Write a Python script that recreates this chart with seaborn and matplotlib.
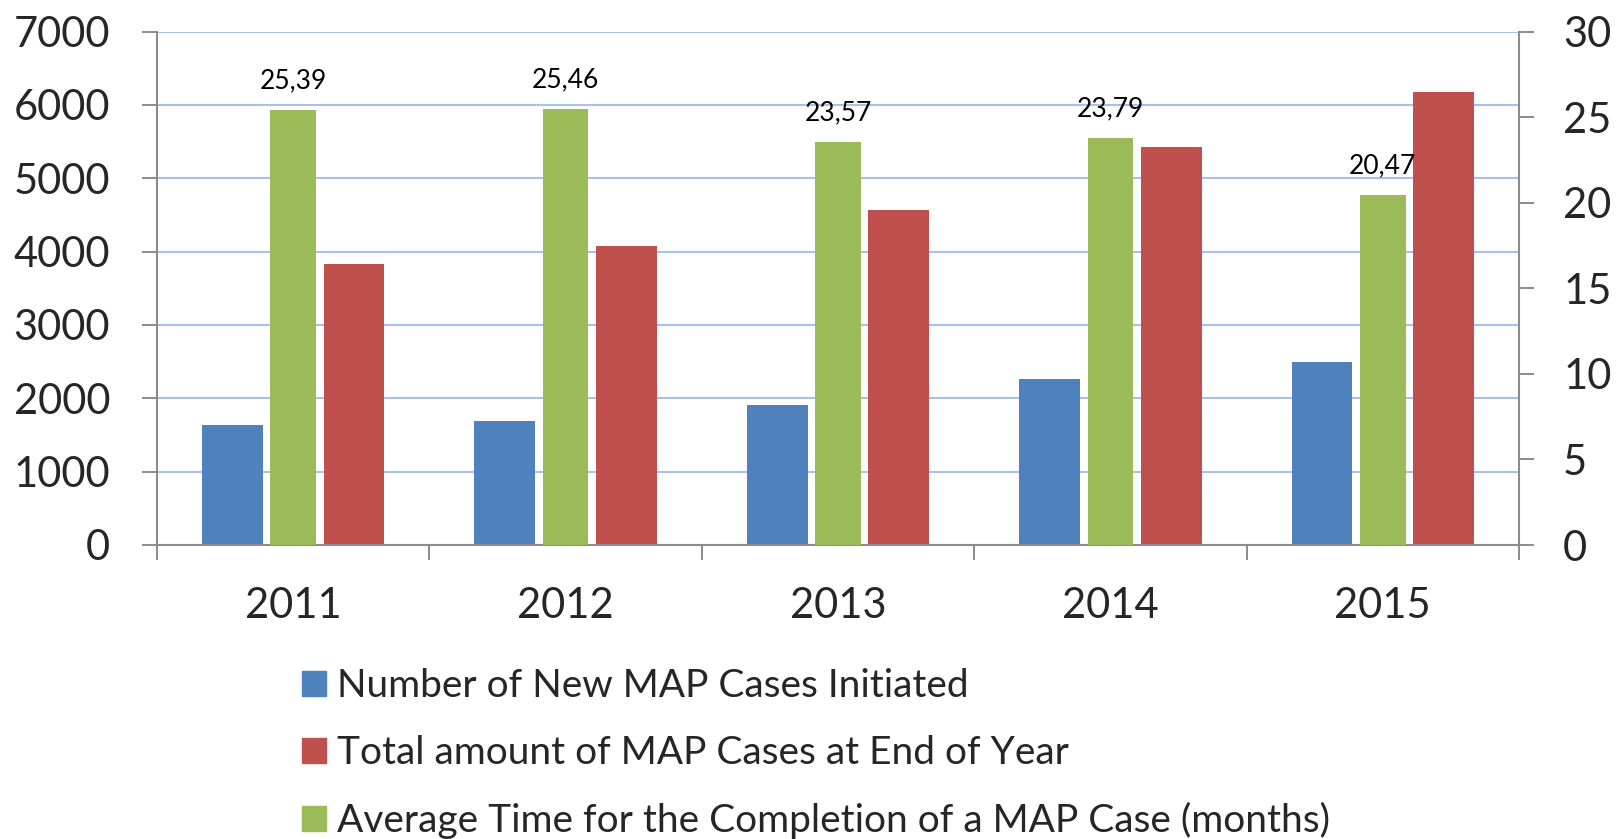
import matplotlib
matplotlib.use('Agg')
import matplotlib.pyplot as plt
import seaborn as sns
import pandas as pd
from matplotlib.patches import Patch
from matplotlib.ticker import FixedLocator

# data
years = ['2011', '2012', '2013', '2014', '2015']
new_cases = [1630, 1685, 1910, 2260, 2500]
total_cases = [3835, 4075, 4565, 5420, 6170]
avg_months = [25.39, 25.46, 23.57, 23.79, 20.47]

series_names = ['Number of New MAP Cases Initiated',
                'Total amount of MAP Cases at End of Year',
                'Average Time for the Completion of a MAP Case (months)']
blue, red, green = '#4F81BD', '#C0504D', '#9BBB59'
spine_col = '#8c8c8c'

sns.set_style('white')
plt.rcParams['font.family'] = ['Lato', 'DejaVu Sans']

fig = plt.figure(figsize=(16.16, 8.39), dpi=100)
ax = fig.add_axes([157 / 1616, 1 - 545 / 839, (1519 - 157) / 1616, (545 - 31.5) / 839])

# primary axis: blue + empty middle slot + red
cases = pd.DataFrame({
    'year': years * 3,
    'series': ['new'] * 5 + ['gap'] * 5 + ['total'] * 5,
    'value': new_cases + [0] * 5 + total_cases,
})
sns.barplot(data=cases, x='year', y='value', hue='series',
            hue_order=['new', 'gap', 'total'],
            palette={'new': blue, 'gap': 'white', 'total': red},
            width=0.67, saturation=1, linewidth=0, errorbar=None,
            legend=False, ax=ax)

# secondary axis: green bars in the middle
ax2 = ax.twinx()
sns.barplot(x=years, y=avg_months, color=green, width=0.167, saturation=1,
            linewidth=0, errorbar=None, ax=ax2)

for i, v in enumerate(avg_months):
    ax2.annotate(f'{v:.2f}'.replace('.', ','), (i, v), xytext=(0, 21),
                 textcoords='offset points', ha='center', va='center',
                 fontsize=19, color='black')

ax.set_xlim(-0.5, 4.5)
ax.set_ylim(0, 7000)
ax2.set_ylim(0, 30)
ax.set_yticks(range(0, 7001, 1000))
ax2.set_yticks(range(0, 31, 5))
ax.set_xlabel('')
ax.set_ylabel('')
ax2.set_ylabel('')

ax.yaxis.grid(True, color='#a9c1e8', lw=1.5)
ax.set_axisbelow(True)

ax.tick_params(axis='y', left=True, length=10.8, width=1.4, color=spine_col,
               pad=23, labelsize=30)
ax2.tick_params(axis='y', right=True, length=10.8, width=1.4, color=spine_col,
                pad=21, labelsize=30)
ax.tick_params(axis='x', which='major', bottom=False, length=0, pad=30, labelsize=30)
ax.xaxis.set_minor_locator(FixedLocator([i - 0.5 for i in range(6)]))
ax.tick_params(axis='x', which='minor', bottom=True, length=10.8, width=1.4,
               color=spine_col)

for s in ['top', 'right']:
    ax.spines[s].set_visible(False)
for s in ['top', 'left', 'bottom']:
    ax2.spines[s].set_visible(False)
for sp in [ax.spines['left'], ax.spines['bottom'], ax2.spines['right']]:
    sp.set_color(spine_col)
    sp.set_linewidth(1.5)

handles = [Patch(color=blue), Patch(color=red), Patch(color=green)]
fig.legend(handles, series_names, loc='upper left',
           bbox_to_anchor=(302 / 1616, 1 - 668 / 839), frameon=False,
           fontsize=28, handlelength=0.62, handleheight=0.62, handletextpad=0.28,
           labelspacing=0.8, borderpad=0, borderaxespad=0)

fig.savefig('out.png', dpi=100)
